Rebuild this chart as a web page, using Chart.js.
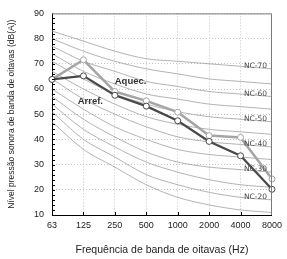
<!DOCTYPE html>
<html>
<head>
<meta charset="utf-8">
<script src="https://cdn.jsdelivr.net/npm/chart.js@4.4.1/dist/chart.umd.min.js"></script>
<style>
  html, body { margin: 0; padding: 0; background: #fff; }
  #wrap { width: 287px; height: 259px; }
</style>
</head>
<body>
<div id="wrap"><canvas id="ncChart"></canvas></div>
<script>
// octave bands (Hz)
const bands = ["63", "125", "250", "500", "1000", "2000", "4000", "8000"];

// measured spectra
const aquec = [63.8, 71.6, 59.0, 55.3, 50.8, 41.5, 40.8, 24.3];
const arref = [63.8, 65.2, 57.5, 53.2, 47.4, 39.2, 33.5, 20.2];

// NC reference curves
const nc70 = [83, 79, 75, 72, 71, 70, 69, 68];
const nc65 = [80, 75, 71, 68, 66, 64, 63, 62];
const nc60 = [77, 71, 67, 63, 61, 59, 58, 57];
const nc55 = [74, 67, 62, 58, 56, 54, 53, 52];
const nc50 = [71, 64, 58, 54, 51, 49, 48, 47];
const nc45 = [67, 60, 54, 49, 46, 44, 43, 42];
const nc40 = [64, 56, 50, 45, 41, 39, 38, 37];
const nc35 = [60, 52, 45, 40, 36, 34, 33, 32];
const nc30 = [57, 48, 41, 35, 31, 29, 28, 27];
const nc25 = [54, 44, 37, 31, 27, 24, 22, 21];
const nc20 = [51, 40, 33, 26, 22, 19, 17, 16];
const nc15 = [47, 36, 29, 22, 17, 14, 12, 11];

const ncLabels = ["NC-70", "NC-60", "NC-50", "NC-40", "NC-30", "NC-20"];

const yMin = 10, yMax = 90, yStep = 10, yMinorStep = 2;

const ncCurves = [
  { name: "NC-70", values: nc70 }, { name: "NC-65", values: nc65 },
  { name: "NC-60", values: nc60 }, { name: "NC-55", values: nc55 },
  { name: "NC-50", values: nc50 }, { name: "NC-45", values: nc45 },
  { name: "NC-40", values: nc40 }, { name: "NC-35", values: nc35 },
  { name: "NC-30", values: nc30 }, { name: "NC-25", values: nc25 },
  { name: "NC-20", values: nc20 }, { name: "NC-15", values: nc15 },
];

// series captions: [category index, dB]
const aquecCaption = { text: "Aquec.", at: [2.5, 63.2] };
const arrefCaption = { text: "Arref.", at: [1.22, 55.2] };

const FONT = "'Liberation Sans', Arial, sans-serif";

const ncDatasets = ncCurves.map((c) => ({
  label: c.name,
  data: c.values,
  borderColor: "#a0a0a0",
  borderWidth: 0.8,
  pointRadius: 0,
  tension: 0.3,
  order: 2,
}));

// frame, minor ticks, NC labels and captions
const decorations = {
  id: "decorations",
  afterDatasetsDraw(chart) {
    const { ctx, chartArea: a, scales: { x, y } } = chart;
    ctx.save();

    // top / right frame
    ctx.strokeStyle = "#7a7a7a";
    ctx.lineWidth = 1;
    ctx.beginPath();
    ctx.moveTo(a.left, a.top + 0.5);
    ctx.lineTo(a.right - 0.5, a.top + 0.5);
    ctx.lineTo(a.right - 0.5, a.bottom);
    ctx.stroke();

    // minor ticks on y axis, inward
    ctx.strokeStyle = "#000";
    ctx.beginPath();
    for (let v = yMin + yMinorStep; v < yMax; v += yMinorStep) {
      const py = Math.round(y.getPixelForValue(v)) + 0.5;
      ctx.moveTo(a.left, py);
      ctx.lineTo(a.left + 3, py);
    }
    // category ticks on x axis, inward
    for (let i = 1; i < bands.length - 1; i++) {
      const px = Math.round(x.getPixelForValue(i)) + 0.5;
      ctx.moveTo(px, a.bottom);
      ctx.lineTo(px, a.bottom - 3);
    }
    ctx.stroke();

    // NC labels
    ctx.font = "7.5px 'DejaVu Sans', sans-serif";
    ctx.fillStyle = "#4a4a4a";
    ctx.textAlign = "right";
    ctx.textBaseline = "middle";
    ncCurves.forEach((c) => {
      if (!ncLabels.includes(c.name)) return;
      const last = c.values[c.values.length - 1];
      ctx.fillText(c.name, a.right - 5, y.getPixelForValue(last) - 3);
    });

    // captions
    ctx.font = "bold 9.5px " + FONT;
    ctx.fillStyle = "#333";
    ctx.textAlign = "center";
    [aquecCaption, arrefCaption].forEach((c) => {
      ctx.fillText(c.text, x.getPixelForValue(c.at[0]), y.getPixelForValue(c.at[1]));
    });

    ctx.restore();
  },
};

new Chart(document.getElementById("ncChart"), {
  type: "line",
  data: {
    labels: bands,
    datasets: [
      {
        label: "Aquec.",
        data: aquec,
        borderColor: "#a5a5a5",
        borderWidth: 2.5,
        pointRadius: 3,
        pointBackgroundColor: "#fff",
        pointBorderColor: "#a5a5a5",
        pointBorderWidth: 1,
        order: 1,
      },
      {
        label: "Arref.",
        data: arref,
        borderColor: "#4a4a4a",
        borderWidth: 2.2,
        pointRadius: 3,
        pointBackgroundColor: "#fff",
        pointBorderColor: "#4a4a4a",
        pointBorderWidth: 1,
        order: 0,
      },
      ...ncDatasets,
    ],
  },
  options: {
    responsive: true,
    maintainAspectRatio: false,
    animation: false,
    devicePixelRatio: 1,
    layout: { padding: { left: 0, right: 10, top: 8, bottom: 0 } },
    plugins: {
      legend: { display: false },
      tooltip: { enabled: false },
    },
    scales: {
      x: {
        type: "category",
        offset: false,
        afterFit: (s) => { s.height = 44; },
        grid: { color: "#c4c4c4", drawTicks: false },
        border: { color: "#000", width: 1, dash: [1, 2] },
        ticks: { padding: 5, color: "#222", font: { family: FONT, size: 9 }, maxRotation: 0, autoSkip: false },
        title: {
          display: true,
          text: "Frequência de banda de oitavas (Hz)",
          color: "#222",
          font: { family: FONT, size: 10.5 },
          padding: { top: 0, bottom: 3 },
        },
      },
      y: {
        min: yMin,
        max: yMax,
        afterFit: (s) => { s.width = 52; },
        grid: { color: "#c4c4c4", drawTicks: false },
        border: { color: "#000", width: 1, dash: [1, 2] },
        ticks: { stepSize: yStep, padding: 8, color: "#222", font: { family: FONT, size: 9 } },
        title: {
          display: true,
          text: "Nível pressão sonora de banda de oitavas (dB(A))",
          color: "#222",
          font: { family: FONT, size: 8.5 },
          padding: { top: 7, bottom: 0 },
        },
      },
    },
  },
  plugins: [decorations],
});
</script>
</body>
</html>
